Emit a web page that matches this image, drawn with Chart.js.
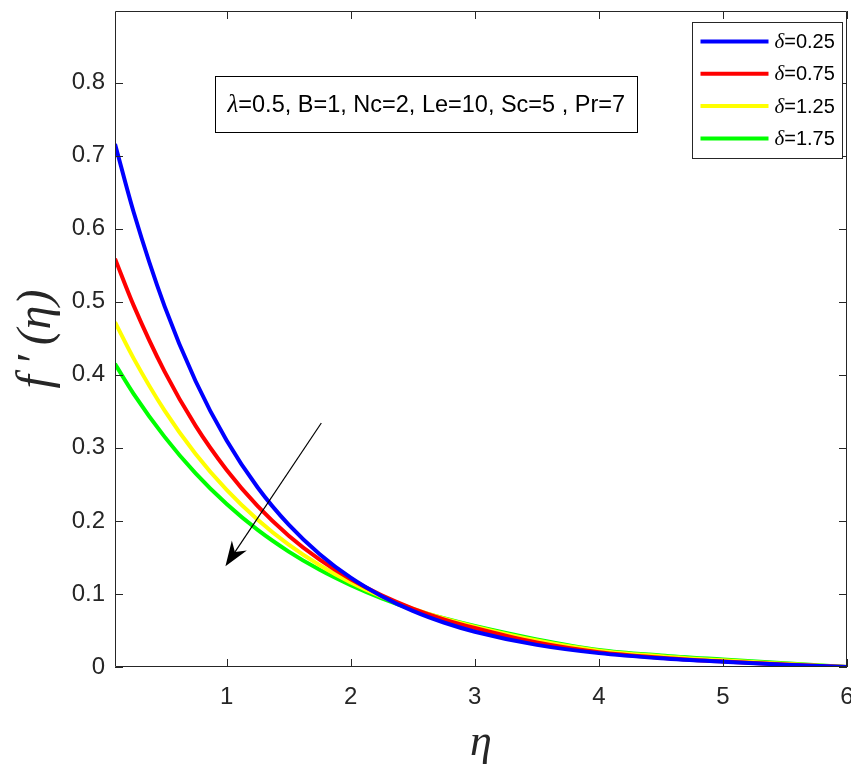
<!DOCTYPE html>
<html>
<head>
<meta charset="utf-8">
<script src="https://cdn.jsdelivr.net/npm/chart.js@4/dist/chart.umd.min.js"></script>
<style>
  html, body { margin: 0; padding: 0; background: #fff; }
  #wrap { width: 851px; height: 770px; }
</style>
</head>
<body>
<div id="wrap"><canvas id="c" width="851" height="770"></canvas></div>
<script>
// similarity variable eta and velocity profiles f'(eta) for each delta
const ETA = [0.1, 0.25, 0.5, 0.75, 1, 1.25, 1.5, 1.75, 2, 2.25, 2.5, 2.75, 3, 3.5, 4, 4.5, 5, 5.5, 6];
const F_DELTA_025 = [0.716, 0.6228, 0.4936, 0.3912, 0.310, 0.2457, 0.1948, 0.1544, 0.1223, 0.0970, 0.0768, 0.0609, 0.0483, 0.0303, 0.0190, 0.0120, 0.0072, 0.0032, 0];
const F_DELTA_075 = [0.559, 0.495, 0.4043, 0.330, 0.2697, 0.2202, 0.1798, 0.1469, 0.120, 0.098, 0.080, 0.0653, 0.0534, 0.0335, 0.0203, 0.0128, 0.0076, 0.0035, 0];
const F_DELTA_125 = [0.472, 0.4225, 0.351, 0.2917, 0.2425, 0.2016, 0.1675, 0.1392, 0.1157, 0.0962, 0.0799, 0.0664, 0.0552, 0.0362, 0.0224, 0.0148, 0.0091, 0.0044, 0];
const F_DELTA_175 = [0.415, 0.374, 0.315, 0.265, 0.223, 0.1876, 0.158, 0.133, 0.112, 0.094, 0.079, 0.0667, 0.0561, 0.0378, 0.0234, 0.0158, 0.0102, 0.0050, 0];

const SERIES_LABELS = ['δ=0.25', 'δ=0.75', 'δ=1.25', 'δ=1.75'];
const SERIES_COLORS = ['#0000ff', '#ff0000', '#ffff00', '#00ff00'];
const X_TICKS = [1, 2, 3, 4, 5, 6];
const Y_TICKS = [0, 0.1, 0.2, 0.3, 0.4, 0.5, 0.6, 0.7, 0.8];
const PARAM_TEXT = ['λ', '=0.5, B=1, Nc=2, Le=10, Sc=5 , Pr=7'];
// arrow showing the direction of increasing delta (data coordinates)
const ARROW_FROM = [1.763, 0.334];
const ARROW_TO = [0.99, 0.138];

const AXIS_COLOR = '#262626';
const SANS = '"Liberation Sans", Arial, sans-serif';
const SERIF = '"Liberation Serif", "Times New Roman", serif';

const allSeries = [F_DELTA_025, F_DELTA_075, F_DELTA_125, F_DELTA_175];
const datasets = allSeries.map((vals, i) => ({
  label: SERIES_LABELS[i],
  data: ETA.map((x, k) => ({ x: x, y: vals[k] })),
  borderColor: SERIES_COLORS[i],
  backgroundColor: SERIES_COLORS[i],
  borderWidth: 4,
  pointRadius: 0,
  fill: false,
  cubicInterpolationMode: 'monotone',
  order: i
}));

const frameAndTicks = {
  id: 'frameAndTicks',
  afterDatasetsDraw(chart) {
    const { ctx, chartArea: a, scales } = chart;
    ctx.save();
    ctx.strokeStyle = AXIS_COLOR;
    ctx.lineWidth = 1;
    ctx.beginPath();
    ctx.rect(a.left + 0.5, a.top + 0.5, a.right - a.left - 1, a.bottom - a.top - 1);
    ctx.stroke();
    const len = 8;
    ctx.beginPath();
    scales.x.ticks.forEach(t => {
      const px = Math.round(scales.x.getPixelForValue(t.value)) + 0.5;
      ctx.moveTo(px, a.bottom); ctx.lineTo(px, a.bottom - len);
      ctx.moveTo(px, a.top); ctx.lineTo(px, a.top + len);
    });
    scales.y.ticks.forEach(t => {
      const py = Math.round(scales.y.getPixelForValue(t.value)) + 0.5;
      ctx.moveTo(a.left, py); ctx.lineTo(a.left + len, py);
      ctx.moveTo(a.right, py); ctx.lineTo(a.right - len, py);
    });
    ctx.stroke();
    ctx.restore();
  }
};

const arrowPlugin = {
  id: 'arrowPlugin',
  afterDatasetsDraw(chart) {
    const { ctx, scales } = chart;
    const x0 = scales.x.getPixelForValue(ARROW_FROM[0]);
    const y0 = scales.y.getPixelForValue(ARROW_FROM[1]);
    const x1 = scales.x.getPixelForValue(ARROW_TO[0]);
    const y1 = scales.y.getPixelForValue(ARROW_TO[1]);
    const dx = x0 - x1, dy = y0 - y1;
    const L = Math.hypot(dx, dy);
    const ux = dx / L, uy = dy / L;   // unit vector pointing back from the tip
    const px = -uy, py = ux;
    const headLen = 25, headW = 9, notch = 17;
    ctx.save();
    ctx.strokeStyle = '#000';
    ctx.lineWidth = 1.2;
    ctx.beginPath();
    ctx.moveTo(x0, y0);
    ctx.lineTo(x1 + ux * notch, y1 + uy * notch);
    ctx.stroke();
    ctx.fillStyle = '#000';
    ctx.beginPath();
    ctx.moveTo(x1, y1);
    ctx.lineTo(x1 + ux * headLen + px * headW, y1 + uy * headLen + py * headW);
    ctx.lineTo(x1 + ux * notch, y1 + uy * notch);
    ctx.lineTo(x1 + ux * headLen - px * headW, y1 + uy * headLen - py * headW);
    ctx.closePath();
    ctx.fill();
    ctx.restore();
  }
};

function drawMixed(ctx, greek, rest, x, y, greekSize, restSize) {
  ctx.font = 'italic ' + greekSize + 'px ' + SERIF;
  ctx.fillText(greek, x, y);
  const w = ctx.measureText(greek).width;
  ctx.font = restSize + 'px ' + SANS;
  ctx.fillText(rest, x + w, y);
}

const paramBox = {
  id: 'paramBox',
  afterDraw(chart) {
    const { ctx, chartArea: a } = chart;
    const bx = a.left + 100.5, by = a.top + 65.5, bw = 422, bh = 56;
    ctx.save();
    ctx.fillStyle = '#fff';
    ctx.fillRect(bx, by, bw, bh);
    ctx.strokeStyle = '#000';
    ctx.lineWidth = 1;
    ctx.strokeRect(bx, by, bw, bh);
    ctx.fillStyle = '#000';
    ctx.textBaseline = 'middle';
    ctx.textAlign = 'left';
    drawMixed(ctx, PARAM_TEXT[0], PARAM_TEXT[1], bx + 12, by + bh / 2 + 1, 25, 23.5);
    ctx.restore();
  }
};

const legendBox = {
  id: 'legendBox',
  afterDraw(chart) {
    const { ctx, chartArea: a } = chart;
    const bw = 150, bh = 136;
    const bx = a.right - 154.5, by = a.top + 11.5;
    ctx.save();
    ctx.fillStyle = '#fff';
    ctx.fillRect(bx, by, bw, bh);
    ctx.strokeStyle = AXIS_COLOR;
    ctx.lineWidth = 1;
    ctx.strokeRect(bx, by, bw, bh);
    ctx.textBaseline = 'middle';
    ctx.textAlign = 'left';
    chart.data.datasets.forEach((d, i) => {
      const y = by + 19 + i * 32.3;
      ctx.strokeStyle = d.borderColor;
      ctx.lineWidth = 4;
      ctx.beginPath();
      ctx.moveTo(bx + 8, y);
      ctx.lineTo(bx + 76, y);
      ctx.stroke();
      ctx.fillStyle = '#000';
      drawMixed(ctx, d.label.charAt(0), d.label.slice(1), bx + 82, y + 1, 21, 20);
    });
    ctx.restore();
  }
};

new Chart(document.getElementById('c'), {
  type: 'line',
  data: { datasets: datasets },
  options: {
    responsive: false,
    animation: false,
    layout: { padding: { left: 0, right: 4, top: 11, bottom: 0 } },
    plugins: { legend: { display: false }, tooltip: { enabled: false } },
    scales: {
      x: {
        type: 'linear',
        min: 0.1,
        max: 6,
        afterBuildTicks(s) { s.ticks = X_TICKS.map(v => ({ value: v })); },
        afterFit(s) { s.height = 103; s.paddingLeft = 0; s.paddingRight = 0; },
        grid: { display: false, drawTicks: false },
        border: { display: false },
        ticks: {
          color: AXIS_COLOR,
          padding: 16,
          maxRotation: 0,
          autoSkip: false,
          font: { family: SANS, size: 24 },
          callback: v => String(v)
        },
        title: {
          display: true,
          text: 'η',
          color: AXIS_COLOR,
          font: { family: SERIF, size: 44, style: 'italic' },
          padding: { top: 0, bottom: 0 }
        }
      },
      y: {
        type: 'linear',
        min: 0,
        max: 0.898,
        afterBuildTicks(s) { s.ticks = Y_TICKS.map(v => ({ value: v })); },
        afterFit(s) { s.width = 115; s.paddingTop = 0; s.paddingBottom = 0; },
        grid: { display: false, drawTicks: false },
        border: { display: false },
        ticks: {
          color: AXIS_COLOR,
          padding: 10,
          autoSkip: false,
          font: { family: SANS, size: 24 },
          callback: v => (v === 0 ? '0' : v.toFixed(1))
        },
        title: {
          display: true,
          text: 'f\u2009′\u2009(η)',
          color: AXIS_COLOR,
          font: { family: SERIF, size: 48, style: 'italic' },
          padding: { top: 9, bottom: 0 }
        }
      }
    }
  },
  plugins: [frameAndTicks, arrowPlugin, paramBox, legendBox]
});
</script>
</body>
</html>
